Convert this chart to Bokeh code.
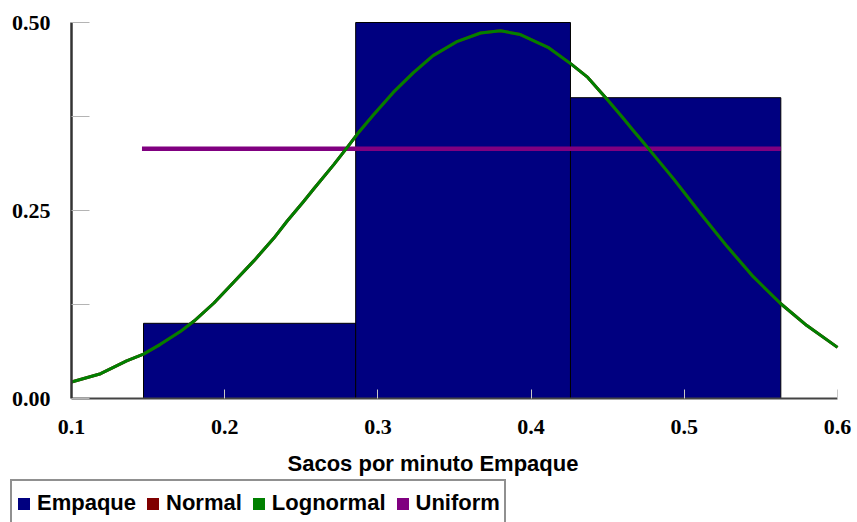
from bokeh.plotting import figure
from bokeh.models import (Range1d, FixedTicker, Legend, LegendItem, Label,
                          CustomJSTickFormatter)
from bokeh.embed import file_html
from bokeh.resources import INLINE

# ---- data ----
bin_left = [0.147, 0.2855, 0.4257]
bin_right = [0.2855, 0.4257, 0.563]
bin_height = [0.10, 0.50, 0.40]

uniform_x = [0.146, 0.563]
uniform_y = [0.332, 0.332]

curve_x = [0.100, 0.119, 0.136, 0.147, 0.158, 0.171, 0.180, 0.193, 0.206, 0.219,
           0.232, 0.2408, 0.2515, 0.2582, 0.2712, 0.280, 0.2867, 0.297, 0.310, 0.323,
           0.336, 0.352, 0.367, 0.380, 0.393, 0.411, 0.426, 0.437, 0.450, 0.460,
           0.4668, 0.4714, 0.478, 0.493, 0.5106, 0.528, 0.545, 0.563, 0.580, 0.600]
lognormal_y = [0.022, 0.033, 0.050, 0.059, 0.072, 0.089, 0.103, 0.127, 0.155, 0.183,
               0.213, 0.236, 0.262, 0.279, 0.311, 0.334, 0.352, 0.377, 0.407, 0.433,
               0.456, 0.475, 0.486, 0.489, 0.484, 0.467, 0.445, 0.427, 0.397, 0.373,
               0.356, 0.345, 0.329, 0.292, 0.246, 0.202, 0.162, 0.126, 0.097, 0.068]
normal_y = [0.022, 0.033, 0.050, 0.059, 0.072, 0.089, 0.103, 0.127, 0.155, 0.183,
            0.213, 0.236, 0.262, 0.279, 0.311, 0.334, 0.352, 0.377, 0.407, 0.433,
            0.456, 0.475, 0.486, 0.489, 0.484, 0.467, 0.445, 0.427, 0.397, 0.373,
            0.356, 0.345, 0.329, 0.292, 0.246, 0.202, 0.162, 0.126, 0.097, 0.068]

x_min, x_max = 0.1, 0.6
y_min, y_max = 0.0, 0.5
x_ticks = [0.1, 0.2, 0.3, 0.4, 0.5, 0.6]
y_ticks = [0.0, 0.25, 0.5]
y_minor = [0.125, 0.375]
series_names = ["Empaque", "Normal", "Lognormal", "Uniform"]
series_colors = ["#000080", "#800000", "#008000", "#800080"]
x_title = "Sacos por minuto Empaque"

# ---- layout: the frame fills the canvas; axes sit at fixed positions ----
W, H = 857, 522
plot_left, plot_right, plot_top, plot_bottom = 71, 837, 22, 398  # pixels
sx = (plot_right - plot_left) / (x_max - x_min)
sy = (plot_bottom - plot_top) / (y_max - y_min)
xr = Range1d(x_min - plot_left / sx, x_min - plot_left / sx + W / sx)
yr = Range1d(y_min - (H - plot_bottom) / sy, y_max + plot_top / sy)

p = figure(width=W, height=H, output_backend="svg", toolbar_location=None,
           x_range=xr, y_range=yr, min_border=0,
           min_border_left=0, min_border_right=0, min_border_top=0,
           min_border_bottom=0)
p.outline_line_color = None
p.xgrid.visible = False
p.ygrid.visible = False
p.background_fill_color = "white"
p.border_fill_color = "white"

bars = p.quad(left=bin_left, right=bin_right, bottom=0, top=bin_height,
              fill_color=series_colors[0], line_color="black", line_width=1)
p.line(uniform_x, uniform_y, line_color=series_colors[3], line_width=4.5)
p.line(curve_x, normal_y, line_color=series_colors[1], line_width=3, line_join="round")
p.line(curve_x, lognormal_y, line_color=series_colors[2], line_width=3, line_join="round")

# axes
xa = p.xaxis[0]
xa.fixed_location = y_min
xa.bounds = (x_min, x_max)
xa.ticker = FixedTicker(ticks=x_ticks)
xa.formatter = CustomJSTickFormatter(code="return tick.toFixed(1);")
xa.major_tick_in = 9
xa.major_tick_out = 0
xa.minor_tick_in = 0
xa.minor_tick_out = 0
xa.major_tick_line_color = "#c8c8c8"
xa.axis_line_color = "#444444"
xa.axis_line_width = 2
xa.major_label_standoff = 21
xa.major_label_text_font = "Liberation Serif"
xa.major_label_text_font_style = "bold"
xa.major_label_text_font_size = "22px"
xa.major_label_text_color = "black"

ya = p.yaxis[0]
ya.fixed_location = x_min
ya.bounds = (y_min, y_max)
ya.ticker = FixedTicker(ticks=y_ticks, minor_ticks=y_minor)
ya.formatter = CustomJSTickFormatter(code="return tick.toFixed(2);")
ya.major_tick_in = 18
ya.major_tick_out = 0
ya.minor_tick_in = 18
ya.minor_tick_out = 0
ya.major_tick_line_color = "#b4b4b4"
ya.minor_tick_line_color = "#b4b4b4"
ya.major_tick_line_width = 1
ya.axis_line_color = "#333333"
ya.axis_line_width = 2.5
ya.major_label_standoff = 21
ya.major_label_text_font = "Liberation Serif"
ya.major_label_text_font_style = "bold"
ya.major_label_text_font_size = "22px"
ya.major_label_text_color = "black"

# axis title
title = Label(x=432.5, y=H - 463, x_units="screen", y_units="screen", text=x_title,
              text_align="center", text_baseline="alphabetic",
              text_font="Liberation Sans", text_font_style="bold",
              text_font_size="22px", text_color="black")
p.add_layout(title)

# legend swatches (zero-height quads on the baseline: invisible in the plot,
# but drawn as filled squares by the legend)
items = []
for name, col in zip(series_names, series_colors):
    r = p.quad(left=bin_left[:1], right=bin_right[:1], bottom=y_min, top=y_min,
               fill_color=col, line_color=None)
    items.append(LegendItem(label=name, renderers=[r]))

legend = Legend(items=items, orientation="horizontal", location=(10, H - 483 - 44),
                glyph_width=15, glyph_height=15, label_standoff=6, spacing=9,
                padding=4, margin=0, label_height=36,
                label_text_font="Liberation Sans", label_text_font_style="bold",
                label_text_font_size="22px", label_text_color="black",
                border_line_color="#222222", border_line_width=2,
                background_fill_color="white", background_fill_alpha=1)
p.add_layout(legend, "center")

open("out.html", "w").write(file_html(p, INLINE))
